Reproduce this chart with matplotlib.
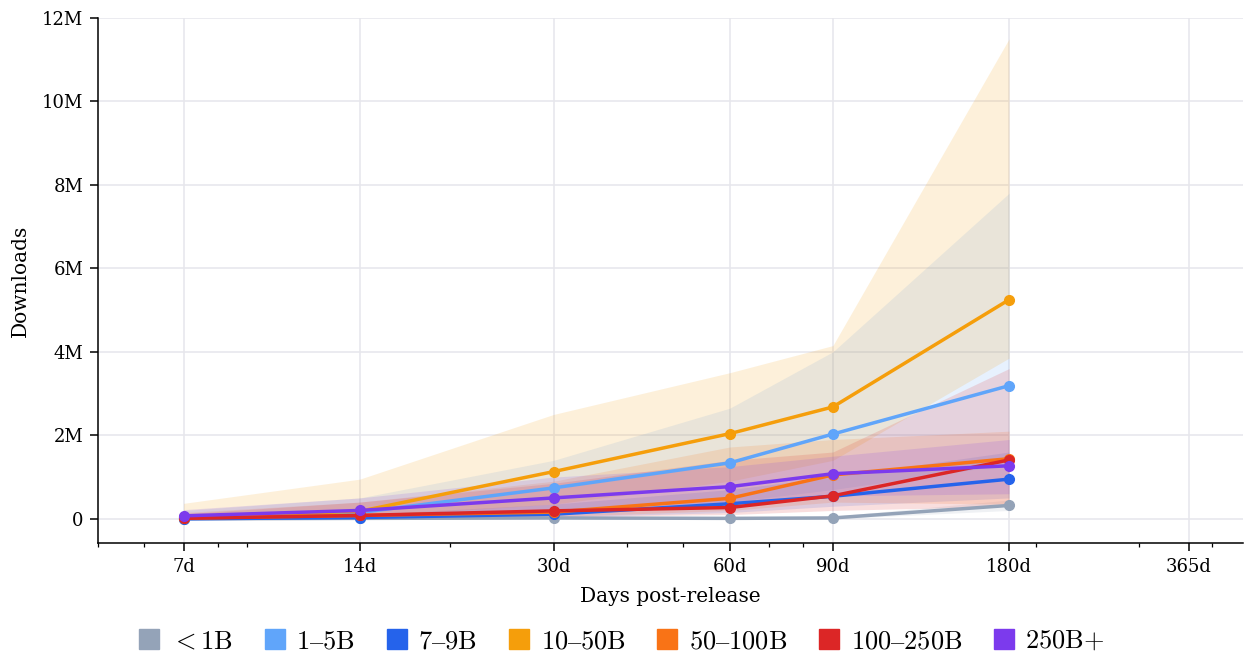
import numpy as np
import matplotlib
matplotlib.use("Agg")
import matplotlib.pyplot as plt
from matplotlib.patches import Patch
from matplotlib.ticker import FuncFormatter, NullFormatter

plt.rcParams['font.family'] = ['DejaVu Serif']
plt.rcParams['mathtext.fontset'] = 'cm'

days = [7, 14, 30, 60, 90, 180]
tick_days = [7, 14, 30, 60, 90, 180, 365]
tick_labels = ["7d", "14d", "30d", "60d", "90d", "180d", "365d"]

labels = [r"${<}\mathrm{1B}$", r"$\mathrm{1–5B}$", r"$\mathrm{7–9B}$", r"$\mathrm{10–50B}$",
          r"$\mathrm{50–100B}$", r"$\mathrm{100–250B}$", r"$\mathrm{250B}{+}$"]
colors = ["#94a3b8", "#60a5fa", "#2563eb", "#f59e0b", "#f97316", "#dc2626", "#7c3aed"]

# median downloads (millions)
med_lt1 = [0.0, 0.01, 0.02, 0.01, 0.02, 0.32]
med_1_5 = [0.05, 0.15, 0.74, 1.34, 2.03, 3.19]
med_7_9 = [0.0, 0.03, 0.11, 0.36, 0.54, 0.95]
med_10_50 = [0.05, 0.18, 1.13, 2.04, 2.68, 5.25]
med_50_100 = [0.02, 0.08, 0.16, 0.49, 1.05, 1.44]
med_100_250 = [0.01, 0.08, 0.19, 0.27, 0.55, 1.41]
med_250 = [0.07, 0.20, 0.50, 0.77, 1.08, 1.27]

# interquartile bands (millions)
lo_lt1 = [0.0, 0.0, 0.0, 0.0, 0.0, 0.2]
hi_lt1 = [0.01, 0.03, 0.05, 0.05, 0.06, 0.45]
lo_1_5 = [0.01, 0.03, 0.2, 0.4, 0.7, 1.3]
hi_1_5 = [0.2, 0.5, 1.4, 2.65, 4.0, 7.8]
lo_7_9 = [0.0, 0.01, 0.04, 0.15, 0.3, 0.5]
hi_7_9 = [0.03, 0.1, 0.35, 0.7, 1.0, 1.6]
lo_10_50 = [0.01, 0.05, 0.35, 0.9, 1.4, 3.85]
hi_10_50 = [0.37, 0.95, 2.5, 3.5, 4.15, 11.5]
lo_50_100 = [0.0, 0.02, 0.05, 0.2, 0.4, 0.35]
hi_50_100 = [0.15, 0.4, 0.9, 1.72, 1.9, 2.1]
lo_100_250 = [0.0, 0.01, 0.05, 0.1, 0.2, 0.3]
hi_100_250 = [0.12, 0.4, 0.85, 1.4, 1.6, 3.6]
lo_250 = [0.02, 0.08, 0.2, 0.35, 0.55, 0.6]
hi_250 = [0.22, 0.5, 1.0, 1.25, 1.5, 1.9]

medians = [med_lt1, med_1_5, med_7_9, med_10_50, med_50_100, med_100_250, med_250]
lows = [lo_lt1, lo_1_5, lo_7_9, lo_10_50, lo_50_100, lo_100_250, lo_250]
highs = [hi_lt1, hi_1_5, hi_7_9, hi_10_50, hi_50_100, hi_100_250, hi_250]

fig = plt.figure(figsize=(12.44, 6.55), dpi=100)
ax = fig.add_axes([0.0788, 0.171, 0.9205, 0.8015])

for med, lo, hi, c in zip(medians, lows, highs, colors):
    ax.fill_between(days, np.array(lo) * 1e6, np.array(hi) * 1e6, color=c, alpha=0.15, lw=0)
for med, c in zip(medians, colors):
    ax.plot(days, np.array(med) * 1e6, color=c, lw=2.5, marker="o", ms=7)

ax.set_xscale("log")
ax.set_xlim(5, 452)
ax.set_xticks(tick_days)
ax.set_xticklabels(tick_labels)
ax.xaxis.set_minor_formatter(NullFormatter())
ax.set_ylim(-0.58e6, 12e6)
ax.set_yticks(np.arange(0, 12.1e6, 2e6))
ax.yaxis.set_major_formatter(FuncFormatter(lambda v, p: "0" if v == 0 else f"{v / 1e6:.0f}M"))

ax.grid(True, which="major", color="#e6e6ec", lw=1.1)
ax.set_axisbelow(True)
for s in ["top", "right"]:
    ax.spines[s].set_visible(False)
for s in ["left", "bottom"]:
    ax.spines[s].set_linewidth(1.1)
ax.tick_params(which="major", labelsize=13, length=5.5, width=1.1, pad=5)
ax.tick_params(which="minor", length=3, width=0.9)
ax.set_xlabel("Days post-release", fontsize=14.5, labelpad=8)
ax.set_ylabel("Downloads", fontsize=14.5, labelpad=9)

handles = [Patch(color=c) for c in colors]
fig.legend(handles, labels, loc="center", bbox_to_anchor=(0.5, 0.022), ncol=7, frameon=False,
           fontsize=19, handlelength=0.75, handleheight=0.75, handletextpad=0.45,
           columnspacing=1.2)

fig.savefig("out.png", dpi=100)
